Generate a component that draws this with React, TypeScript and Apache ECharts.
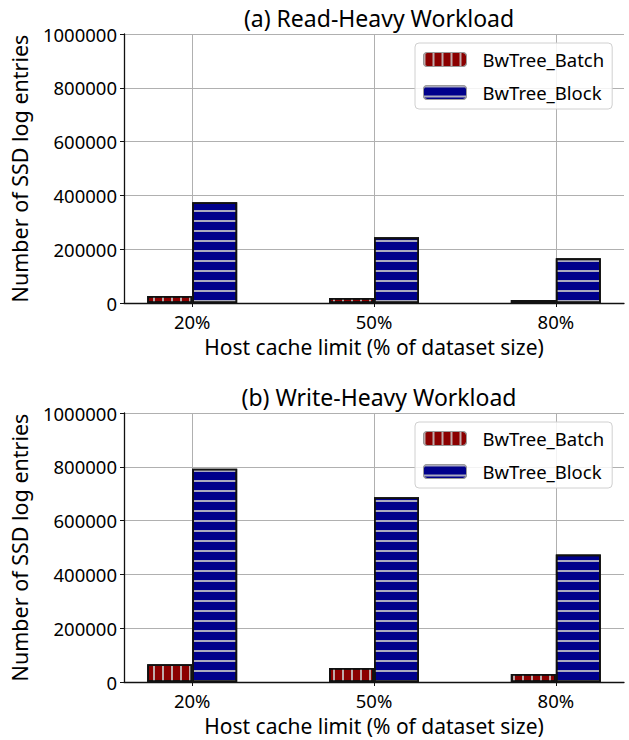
import React, { useEffect, useRef } from "react";
import * as echarts from "echarts";

// Host cache limit categories and the number of SSD log entries per variant
const categories = ["20%", "50%", "80%"];
const seriesNames = ["BwTree_Batch", "BwTree_Block"];
const readBatch = [26000, 18500, 11000];
const readBlock = [375000, 244000, 166000];
const writeBatch = [66000, 52000, 30000];
const writeBlock = [793000, 687000, 474000];
const yTicks = [0, 200000, 400000, 600000, 800000, 1000000];
const titles = ["(a) Read-Heavy Workload", "(b) Write-Heavy Workload"];

const FONT = "Noto Sans";
const BATCH_COLOR = "#8b0000";
const BLOCK_COLOR = "#00008b";

const batchDecal = {
  symbol: "rect",
  symbolSize: 1,
  color: "rgba(200,200,200,0.85)",
  dashArrayX: [1.3, 6.4],
  dashArrayY: [10, 0],
};
const blockDecal = {
  symbol: "rect",
  symbolSize: 1,
  color: "rgba(200,200,200,0.85)",
  dashArrayX: [10, 0],
  dashArrayY: [1.3, 7.7],
};

const gridTops = [34, 413];
const gridHeight = 269;

function App() {
  const ref = useRef<HTMLDivElement>(null);

  useEffect(() => {
    if (!ref.current) return;
    const chart = echarts.init(ref.current, null, { renderer: "svg" });

    const xAxes = gridTops.map((_, i) => ({
      type: "value",
      gridIndex: i,
      min: -0.375,
      max: 2.375,
      name: "Host cache limit (% of dataset size)",
      nameLocation: "middle",
      nameGap: 33,
      nameTextStyle: { fontFamily: FONT, fontSize: 21, color: "#000" },
      axisLine: { show: true, onZero: false, lineStyle: { color: "#111", width: 1.3 } },
      axisTick: {
        show: true,
        length: 4,
        customValues: [0, 1, 2],
        lineStyle: { color: "#111" },
      },
      axisLabel: {
        customValues: [0, 1, 2],
        formatter: (v: number) => categories[Math.round(v)] ?? "",
        fontFamily: FONT,
        fontSize: 18.5,
        color: "#000",
        margin: 9,
      },
      splitLine: { show: true, lineStyle: { color: "#b0b0b0", width: 1 } },
    }));

    const yAxes = gridTops.map((_, i) => ({
      type: "value",
      gridIndex: i,
      min: 0,
      max: 1000000,
      interval: 200000,
      name: "Number of SSD log entries",
      nameLocation: "middle",
      nameGap: 94,
      nameTextStyle: { fontFamily: FONT, fontSize: 21.5, color: "#000" },
      axisLine: { show: true, onZero: false, lineStyle: { color: "#111", width: 1.3 } },
      axisTick: { show: true, length: 4, lineStyle: { color: "#111" } },
      axisLabel: {
        formatter: (v: number) => String(v),
        fontFamily: FONT,
        fontSize: 18.5,
        color: "#000",
        margin: 7,
        customValues: yTicks,
      },
      splitLine: { show: true, lineStyle: { color: "#b0b0b0", width: 1 } },
    }));

    const makeBar = (name: string, data: number[], idx: number, color: string, decal: any) => ({
      type: "bar",
      name,
      xAxisIndex: idx,
      yAxisIndex: idx,
      data: data.map((v, j) => [j, v]),
      barWidth: 45,
      barGap: "0%",
      itemStyle: { color, borderColor: "#111", borderWidth: 1.8, decal },
      emphasis: { disabled: true },
    });

    const legends = gridTops.map((top) => ({
      orient: "vertical",
      left: 415,
      top: top + 9,
      padding: [7, 8, 7, 8],
      itemWidth: 43,
      itemHeight: 14,
      itemGap: 14,
      borderColor: "#d0d0d0",
      borderWidth: 1,
      borderRadius: 4,
      backgroundColor: "rgba(255,255,255,0.85)",
      selectedMode: false,
      itemStyle: { borderColor: "#9a9a9a", borderWidth: 1 },
      textStyle: { fontFamily: FONT, fontSize: 18.5, color: "#000", padding: [0, 0, 0, 11] },
      data: seriesNames,
    }));

    chart.setOption({
      animation: false,
      backgroundColor: "#fff",
      title: titles.map((t, i) => ({
        text: t,
        left: 374,
        textAlign: "center",
        top: gridTops[i] - 33,
        textStyle: { fontFamily: FONT, fontSize: 23, fontWeight: "normal", color: "#000" },
      })),
      legend: legends,
      grid: gridTops.map((top) => ({ left: 124, width: 500, top, height: gridHeight })),
      xAxis: xAxes,
      yAxis: yAxes,
      series: [
        makeBar(seriesNames[0], readBatch, 0, BATCH_COLOR, batchDecal),
        makeBar(seriesNames[1], readBlock, 0, BLOCK_COLOR, blockDecal),
        makeBar(seriesNames[0], writeBatch, 1, BATCH_COLOR, batchDecal),
        makeBar(seriesNames[1], writeBlock, 1, BLOCK_COLOR, blockDecal),
      ],
    });

    return () => chart.dispose();
  }, []);

  return <div ref={ref} style={{ width: 629, height: 740, position: "absolute", left: 0, top: 0 }} />;
}

export default App;
